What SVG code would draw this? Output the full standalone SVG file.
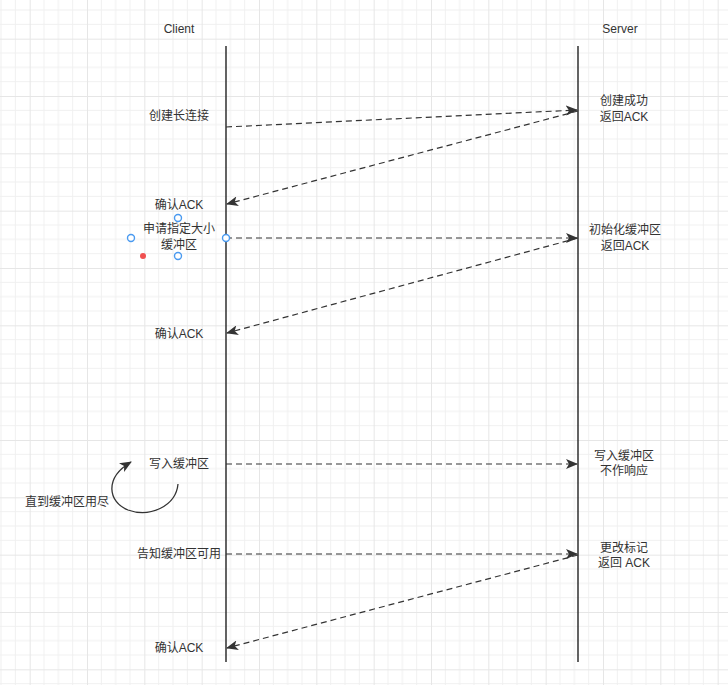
<svg xmlns="http://www.w3.org/2000/svg" width="728" height="685" viewBox="0 0 728 685">
<defs>
<pattern id="grid" patternUnits="userSpaceOnUse" x="29.67" y="38.67" width="57.333" height="57.333">
<path d="M14.333 0V57.333M28.667 0V57.333M43 0V57.333M0 14.333H57.333M0 28.667H57.333M0 43H57.333" stroke="#f0f0f0" stroke-width="1" fill="none"/>
<path d="M0.5 0V57.333M0 0.5H57.333" stroke="#e6e6e6" stroke-width="1" fill="none"/>
</pattern>
<marker id="arr" viewBox="0 0 12 10" refX="11" refY="5" markerWidth="12" markerHeight="10" markerUnits="userSpaceOnUse" orient="auto">
<path d="M0 0L12 5L0 10L3 5Z" fill="#333"/>
</marker>
</defs>
<style>
text{font-family:"Liberation Sans","Noto Sans CJK SC",sans-serif;font-size:12px;fill:#333;text-anchor:middle}
.life{stroke:#222;stroke-width:1.4;fill:none}
.msg{stroke:#333;stroke-width:1.2;stroke-dasharray:6 4;fill:none;marker-end:url(#arr)}
.h{fill:#fff;stroke:#4a9af0;stroke-width:1.4}
</style>
<rect width="728" height="685" fill="#fff"/>
<rect width="728" height="685" fill="url(#grid)"/>
<g id="client">
<text x="179" y="33">Client</text>
<line class="life" x1="226" y1="46" x2="226" y2="662"/>
</g>
<g id="server">
<text x="620" y="33">Server</text>
<line class="life" x1="578" y1="46" x2="578" y2="662"/>
</g>
<g id="connectors">
<path class="msg" d="M226 127L577 110"/>
<path class="msg" d="M578 111L227 204"/>
<path class="msg" d="M226 238L577 238"/>
<path class="msg" d="M578 238L227 333"/>
<path class="msg" d="M226 464L577 464"/>
<path class="msg" d="M226 554L577 554"/>
<path class="msg" d="M578 555L227 648"/>
<path d="M178 484C176 506 150 518 128 510C108 502 104 478 131 462" stroke="#333" stroke-width="1.3" fill="none" marker-end="url(#arr)"/>
</g>
<g id="label-create"><text x="179" y="120">创建长连接</text></g>
<g id="label-create-ok"><text x="624" y="105">创建成功</text><text x="624" y="121">返回ACK</text></g>
<g id="label-ack1"><text x="179" y="209">确认ACK</text></g>
<g id="label-apply"><text x="179" y="233">申请指定大小</text><text x="179" y="249">缓冲区</text></g>
<g id="selection">
<circle class="h" cx="131" cy="238" r="3.5"/>
<circle class="h" cx="178" cy="218" r="3.5"/>
<circle class="h" cx="178" cy="256" r="3.5"/>
<circle class="h" cx="226" cy="238" r="3.5"/>
<circle cx="143" cy="256" r="3" fill="#f05050"/>
</g>
<g id="label-init"><text x="625" y="234">初始化缓冲区</text><text x="625" y="250">返回ACK</text></g>
<g id="label-ack2"><text x="179" y="338">确认ACK</text></g>
<g id="label-write"><text x="179" y="468">写入缓冲区</text></g>
<g id="label-write-srv"><text x="624" y="460">写入缓冲区</text><text x="624" y="475">不作响应</text></g>
<g id="label-loop"><text x="67" y="506">直到缓冲区用尽</text></g>
<g id="label-notify"><text x="179" y="558">告知缓冲区可用</text></g>
<g id="label-mark"><text x="624" y="552">更改标记</text><text x="624" y="567">返回 ACK</text></g>
<g id="label-ack3"><text x="179" y="652">确认ACK</text></g>
</svg>
